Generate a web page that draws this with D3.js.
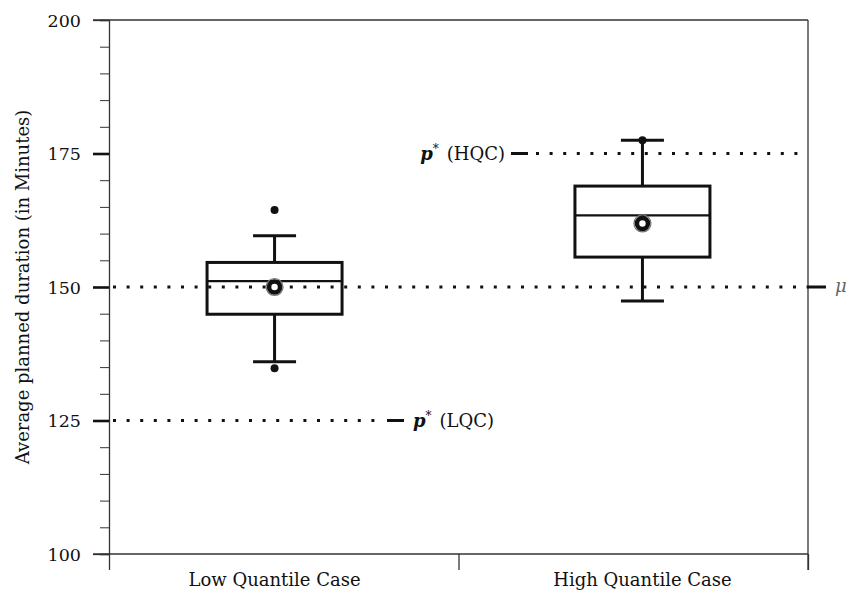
<!DOCTYPE html>
<html>
<head>
<meta charset="utf-8">
<script src="https://cdn.jsdelivr.net/npm/d3@7"></script>
<style>
  body { margin: 0; background: #fff; }
  text { font-family: "DejaVu Serif", serif; fill: #111; }
</style>
</head>
<body>
<div id="chart"></div>
<script>
// data
const categories = ["Low Quantile Case", "High Quantile Case"];
const whiskerLow = [136.0, 147.4];
const q1 = [144.9, 155.6];
const median = [151.1, 163.4];
const q3 = [154.6, 168.9];
const whiskerHigh = [159.6, 177.5];
const means = [150.0, 161.9];
const outliers = [[164.4, 134.8], [177.5]];
const yTicks = [100, 125, 150, 175, 200];
const refValues = [150, 175, 125];

const width = 856, height = 592;
const pLeft = 109, pRight = 808, pTop = 20, pBottom = 554;

const svg = d3.select("#chart").append("svg")
    .attr("width", width)
    .attr("height", height);

const y = d3.scaleLinear().domain([100, 200]).range([pBottom, pTop]);
const x = d3.scaleLinear().domain([0.55, 2.45]).range([pLeft, pRight]);

// frame: top line, right line
svg.append("line").attr("x1", pLeft - 16).attr("x2", pRight)
    .attr("y1", y(200)).attr("y2", y(200))
    .attr("stroke", "#333").attr("stroke-width", 1.3);
svg.append("line").attr("x1", pRight).attr("x2", pRight)
    .attr("y1", pTop).attr("y2", pBottom + 16)
    .attr("stroke", "#333").attr("stroke-width", 1.3);

// y axis
const yAxis = svg.append("g")
    .attr("transform", `translate(${pLeft},0)`)
    .call(d3.axisLeft(y).tickValues(d3.range(100, 201, 5)).tickSize(9).tickFormat(""));
yAxis.select(".domain").attr("stroke", "#333").attr("stroke-width", 1.3);
yAxis.selectAll(".tick line").attr("stroke", "#333").attr("stroke-width", 1);
yAxis.selectAll(".tick").filter(d => yTicks.includes(d)).select("line")
    .attr("x2", -16).attr("stroke", "#111").attr("stroke-width", 2.6);
yAxis.selectAll(".tick").filter(d => d === 100 || d === 200).select("line")
    .attr("stroke", "#333").attr("stroke-width", 1.3);

svg.selectAll(".ylab").data(yTicks).enter().append("text")
    .attr("x", pLeft - 28).attr("y", d => y(d) + 6.5)
    .attr("text-anchor", "end")
    .attr("font-size", 17.5)
    .text(d => d);

// x axis
const xAxis = svg.append("g")
    .attr("transform", `translate(0,${pBottom})`)
    .call(d3.axisBottom(x).tickValues([0.55, 1.5, 2.45]).tickSize(16).tickFormat(""));
xAxis.select(".domain").remove();
xAxis.selectAll(".tick line").attr("stroke", "#333").attr("stroke-width", 1.3);
svg.append("line").attr("x1", pLeft - 16).attr("x2", pRight)
    .attr("y1", pBottom).attr("y2", pBottom)
    .attr("stroke", "#333").attr("stroke-width", 1.3);

svg.selectAll(".xlab").data(categories).enter().append("text")
    .attr("x", (d, i) => x(i + 1)).attr("y", 586)
    .attr("text-anchor", "middle")
    .attr("font-size", 18)
    .text(d => d);

svg.append("text")
    .attr("transform", `translate(29,${(pTop + pBottom) / 2}) rotate(-90)`)
    .attr("text-anchor", "middle")
    .attr("font-size", 18)
    .text("Average planned duration (in Minutes)");

// reference lines
function dotted(x1, x2, v) {
    svg.append("line").attr("x1", x1).attr("x2", x2)
        .attr("y1", y(v)).attr("y2", y(v))
        .attr("stroke", "#111").attr("stroke-width", 3)
        .attr("stroke-dasharray", "3,10.6");
}
function dash(x1, x2, v) {
    svg.append("line").attr("x1", x1).attr("x2", x2)
        .attr("y1", y(v)).attr("y2", y(v))
        .attr("stroke", "#111").attr("stroke-width", 3);
}
// mu
dotted(pLeft + 4, pRight, refValues[0]);
dash(pRight, pRight + 18, refValues[0]);
svg.append("text").attr("x", pRight + 27).attr("y", y(refValues[0]) + 5)
    .attr("font-size", 18).attr("font-style", "italic")
    .style("fill", "#666").text("μ");
// p* HQC
dash(511, 528, refValues[1]);
dotted(536, pRight, refValues[1]);
const hqc = svg.append("text").attr("x", 505).attr("y", y(refValues[1]) + 6)
    .attr("text-anchor", "end").attr("font-size", 18);
hqc.append("tspan").attr("font-style", "italic").attr("font-weight", "bold").text("p");
hqc.append("tspan").attr("dy", -7).attr("font-size", 12).text("*");
hqc.append("tspan").attr("dy", 7).attr("dx", 8).text("(HQC)");
// p* LQC
dotted(pLeft + 4, 383, refValues[2]);
dash(387, 404, refValues[2]);
const lqc = svg.append("text").attr("x", 413).attr("y", y(refValues[2]) + 6)
    .attr("font-size", 18);
lqc.append("tspan").attr("font-style", "italic").attr("font-weight", "bold").text("p");
lqc.append("tspan").attr("dy", -7).attr("font-size", 12).text("*");
lqc.append("tspan").attr("dy", 7).attr("dx", 8).text("(LQC)");

// boxes
const boxHalf = 67.5, capHalf = 21.5;
const g = svg.selectAll(".box").data(categories).enter().append("g")
    .attr("fill", "none").attr("stroke", "#111").attr("stroke-width", 3);

g.append("line").attr("x1", (d, i) => x(i + 1)).attr("x2", (d, i) => x(i + 1))
    .attr("y1", (d, i) => y(whiskerHigh[i])).attr("y2", (d, i) => y(q3[i]));
g.append("line").attr("x1", (d, i) => x(i + 1)).attr("x2", (d, i) => x(i + 1))
    .attr("y1", (d, i) => y(q1[i])).attr("y2", (d, i) => y(whiskerLow[i]));
g.append("line").attr("x1", (d, i) => x(i + 1) - capHalf).attr("x2", (d, i) => x(i + 1) + capHalf)
    .attr("y1", (d, i) => y(whiskerHigh[i])).attr("y2", (d, i) => y(whiskerHigh[i]));
g.append("line").attr("x1", (d, i) => x(i + 1) - capHalf).attr("x2", (d, i) => x(i + 1) + capHalf)
    .attr("y1", (d, i) => y(whiskerLow[i])).attr("y2", (d, i) => y(whiskerLow[i]));
g.append("rect")
    .attr("x", (d, i) => x(i + 1) - boxHalf).attr("width", boxHalf * 2)
    .attr("y", (d, i) => y(q3[i])).attr("height", (d, i) => y(q1[i]) - y(q3[i]));
g.append("line").attr("x1", (d, i) => x(i + 1) - boxHalf).attr("x2", (d, i) => x(i + 1) + boxHalf)
    .attr("y1", (d, i) => y(median[i])).attr("y2", (d, i) => y(median[i]))
    .attr("stroke-width", 2.2);

// outliers
outliers.forEach((arr, i) => {
    svg.selectAll(null).data(arr).enter().append("circle")
        .attr("cx", x(i + 1)).attr("cy", d => y(d)).attr("r", 4)
        .attr("fill", "#111");
});

// means
svg.selectAll(".mean").data(means).enter().append("circle")
    .attr("cx", (d, i) => x(i + 1)).attr("cy", d => y(d)).attr("r", 8.5)
    .attr("fill", "none").attr("stroke", "#777").attr("stroke-width", 1.2);
svg.selectAll(".mean2").data(means).enter().append("circle")
    .attr("cx", (d, i) => x(i + 1)).attr("cy", d => y(d)).attr("r", 5.5)
    .attr("fill", "#fff").attr("stroke", "#111").attr("stroke-width", 4.5);
</script>
</body>
</html>
